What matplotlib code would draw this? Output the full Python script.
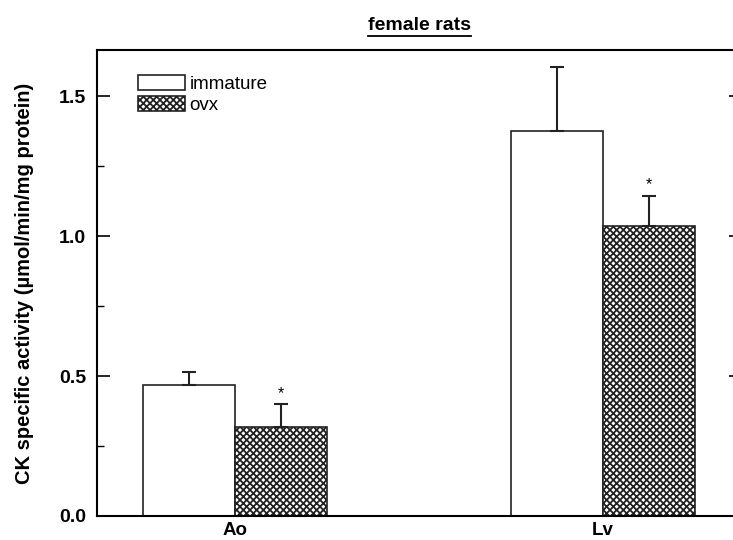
import matplotlib
matplotlib.use('Agg')
import matplotlib.pyplot as plt
import numpy as np
from matplotlib.lines import Line2D
from matplotlib.ticker import MultipleLocator

plt.rcParams['font.family'] = ['Liberation Sans', 'DejaVu Sans']
plt.rcParams['hatch.linewidth'] = 1.3

# data
tissues = ['Ao', 'Lv']
groups = ['immature', 'ovx']
immature_mean = [0.468, 1.375]
immature_err = [0.046, 0.230]
ovx_mean = [0.318, 1.036]
ovx_err = [0.082, 0.108]
ovx_signif = ['*', '*']

fig = plt.figure(figsize=(7.33, 5.4), dpi=100)
ax = fig.add_axes([97 / 733, 24 / 540, 644 / 733, 466 / 540])

x = np.arange(len(tissues))
w = 0.25

ax.bar(x - w / 2, immature_mean, w, color='white', edgecolor='#222222',
       linewidth=1.2, label=groups[0])
ax.bar(x + w / 2, ovx_mean, w, color='white', edgecolor='#222222',
       hatch='xxxxx', linewidth=1.2, label=groups[1])

# error bars (upper only)
ax.errorbar(x - w / 2, immature_mean, yerr=[np.zeros(2), immature_err],
            fmt='none', ecolor='#222222', elinewidth=1.5, capsize=5, capthick=1.5)
ax.errorbar(x + w / 2, ovx_mean, yerr=[np.zeros(2), ovx_err],
            fmt='none', ecolor='#222222', elinewidth=1.5, capsize=5, capthick=1.5)

for xi, m, e, s in zip(x + w / 2, ovx_mean, ovx_err, ovx_signif):
    ax.text(xi, m + e + 0.012, s, ha='center', va='bottom', fontsize=11.5)

ax.set_xlim(-0.375, 1.375)
ax.set_ylim(0, 1.665)
ax.set_xticks(x)
ax.set_xticklabels(tissues, fontsize=13.5, fontweight='bold')
ax.tick_params(axis='x', length=0, pad=4)
ax.yaxis.set_major_locator(MultipleLocator(0.5))
ax.yaxis.set_minor_locator(MultipleLocator(0.25))
ax.yaxis.set_major_formatter(matplotlib.ticker.FormatStrFormatter('%.1f'))
ax.tick_params(axis='y', which='major', direction='in', length=9, width=1.2,
               labelsize=14, right=True, pad=8)
ax.tick_params(axis='y', which='minor', direction='in', length=5, width=1.0, right=True)
for lab in ax.get_yticklabels():
    lab.set_fontweight('bold')
for sp in ax.spines.values():
    sp.set_linewidth(1.5)

ax.set_ylabel('CK specific activity (\u00b5mol/min/mg protein)', fontsize=14.5,
              fontweight='bold', labelpad=18)

ax.legend(loc='upper left', bbox_to_anchor=(0.052, 0.963), frameon=False,
          fontsize=13.5, handlelength=2.5, handleheight=0.85, handletextpad=0.25,
          labelspacing=0.2, borderaxespad=0)

# title, underlined
t = fig.text(419 / 733, 1 - 26 / 540, 'female rats', ha='center', va='center',
             fontsize=14, fontweight='bold')
fig.canvas.draw()
bb = t.get_window_extent().transformed(fig.transFigure.inverted())
fig.add_artist(Line2D([bb.x0, bb.x1], [bb.y0 - 0.002, bb.y0 - 0.002],
                      transform=fig.transFigure, color='black', linewidth=1.3))

fig.savefig('out.png', dpi=100)
